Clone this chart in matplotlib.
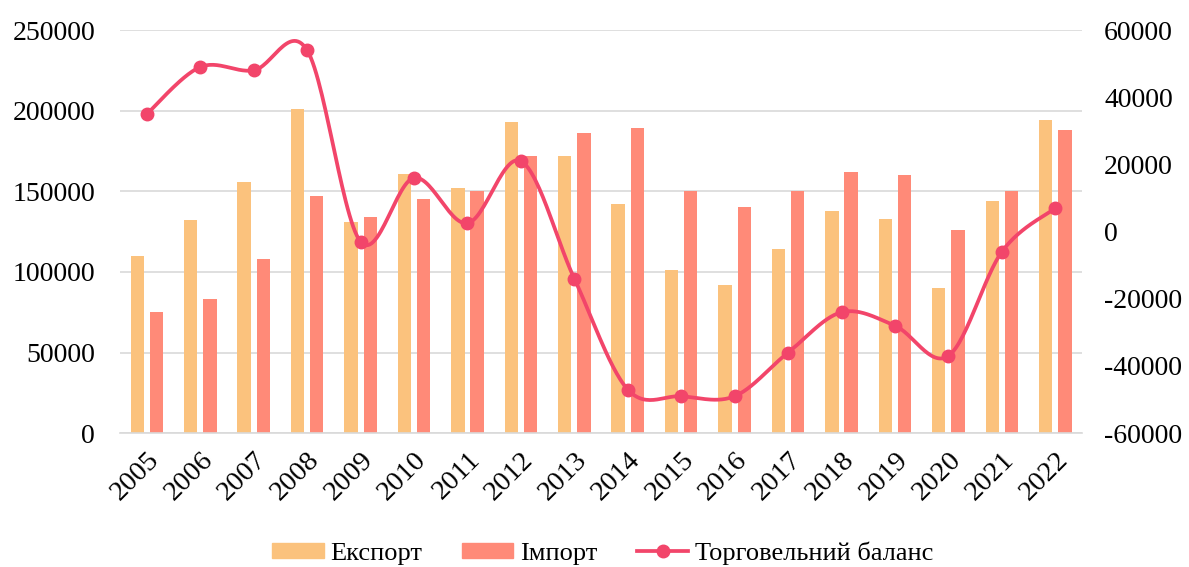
import matplotlib
matplotlib.use('Agg')
import matplotlib.pyplot as plt
import numpy as np
from matplotlib.lines import Line2D
from matplotlib.patches import Patch

years = ['2005', '2006', '2007', '2008', '2009', '2010', '2011', '2012', '2013',
         '2014', '2015', '2016', '2017', '2018', '2019', '2020', '2021', '2022']
export = [110000, 132000, 156000, 201000, 131000, 161000, 152000, 193000, 172000,
          142000, 101000, 92000, 114000, 138000, 133000, 90000, 144000, 194000]
imports = [75000, 83000, 108000, 147000, 134000, 145000, 150000, 172000, 186000,
           189000, 150000, 140000, 150000, 162000, 160000, 126000, 150000, 188000]
balance = [35000, 49000, 48000, 54000, -3000, 16000, 2500, 21000, -14000,
           -47000, -49000, -49000, -36000, -24000, -28000, -37000, -6000, 7000]

c_exp = '#FBC27D'
c_imp = '#FF8A78'
c_bal = '#F2456A'

plt.rcParams['font.family'] = ['Liberation Serif', 'DejaVu Serif']
plt.rcParams['axes.unicode_minus'] = False

fig = plt.figure(figsize=(11.89, 5.67), dpi=100)
ax = fig.add_axes([0.101, 0.236, 0.809, 0.711])
ax2 = ax.twinx()

x = np.arange(len(years))
w = 0.25
ax.bar(x - 0.18, export, w, color=c_exp, zorder=2)
ax.bar(x + 0.18, imports, w, color=c_imp, zorder=2)

ax.set_xlim(-0.5, len(years) - 0.5)
ax.set_ylim(0, 250000)
ax.set_yticks(range(0, 250001, 50000))
ax.grid(axis='y', color='#D9D9D9', linewidth=1.2, zorder=0)
ax.set_axisbelow(True)
for s in ax.spines.values():
    s.set_visible(False)
for s in ax2.spines.values():
    s.set_visible(False)
ax.spines['bottom'].set_visible(True)
ax.spines['bottom'].set_color('#D9D9D9')
ax.spines['bottom'].set_linewidth(1.2)

ax.set_xticks(x)
ax.set_xticklabels(years, rotation=45, ha='right', rotation_mode='anchor')
ax.tick_params(axis='y', length=0, labelsize=20, pad=18)
ax.tick_params(axis='x', length=0, labelsize=20.5, pad=10)

# smoothed line (Catmull-Rom style, like Excel)
def smooth(xs, ys, n=30):
    px = np.concatenate([[xs[0]], xs, [xs[-1]]]).astype(float)
    py = np.concatenate([[ys[0]], ys, [ys[-1]]]).astype(float)
    ox, oy = [], []
    for i in range(1, len(px) - 2):
        p0, p1, p2, p3 = (np.array([px[j], py[j]]) for j in (i - 1, i, i + 1, i + 2))
        c1 = p1 + (p2 - p0) / 6
        c2 = p2 - (p3 - p1) / 6
        t = np.linspace(0, 1, n)[:, None]
        pts = ((1 - t) ** 3) * p1 + 3 * ((1 - t) ** 2) * t * c1 + 3 * (1 - t) * t ** 2 * c2 + t ** 3 * p2
        ox.extend(pts[:, 0])
        oy.extend(pts[:, 1])
    return ox, oy

sx, sy = smooth(x, balance)
ax2.plot(sx, sy, color=c_bal, linewidth=2.7, zorder=3)
ax2.plot(x, balance, 'o', color=c_bal, markersize=9, zorder=4)
ax2.set_ylim(-60000, 60000)
ax2.set_yticks(range(-60000, 60001, 20000))
ax2.tick_params(axis='y', length=0, labelsize=20, pad=16)

handles = [Patch(color=c_exp), Patch(color=c_imp),
           Line2D([0], [0], color=c_bal, linewidth=2.7, marker='o', markersize=9)]
fig.legend(handles, ['Експорт', 'Імпорт', 'Торговельний баланс'],
           loc='center', bbox_to_anchor=(0.507, 0.025), ncol=3, frameon=False,
           fontsize=19, handlelength=1.95, handleheight=0.5, columnspacing=1.5,
           handletextpad=0.25, borderpad=0)

fig.savefig('out.png', dpi=100)
